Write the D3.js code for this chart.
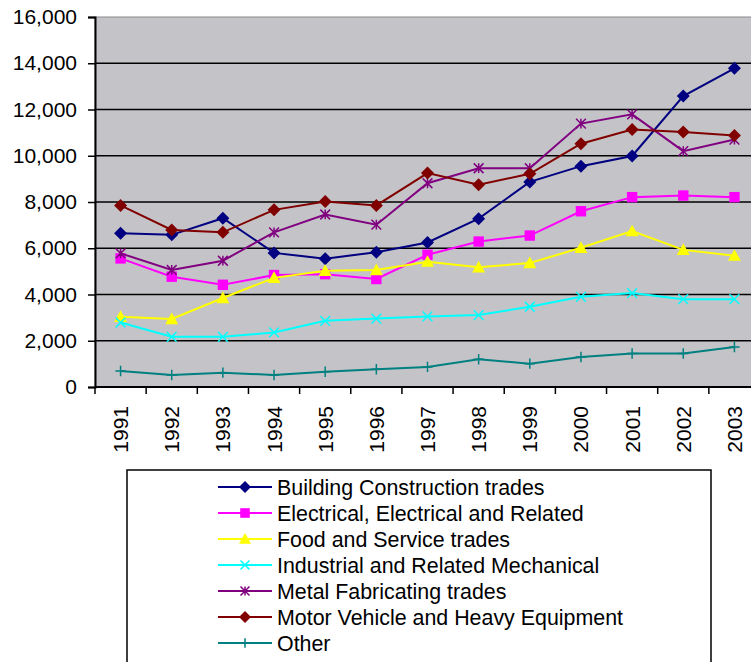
<!DOCTYPE html>
<html>
<head>
<meta charset="utf-8">
<script src="https://cdn.jsdelivr.net/npm/d3@7"></script>
<style>
  html, body { margin: 0; padding: 0; background: #fff; }
  svg { display: block; font-family: Arial, "Liberation Sans", sans-serif; }
</style>
</head>
<body>
<svg id="chart" width="751" height="662"></svg>
<script>
const years = ["1991","1992","1993","1994","1995","1996","1997","1998","1999","2000","2001","2002","2003"];
const yTicks = [0, 2000, 4000, 6000, 8000, 10000, 12000, 14000, 16000];

const building   = [6650, 6580, 7300, 5800, 5550, 5830, 6250, 7280, 8870, 9550, 9990, 12580, 13780];
const electrical = [5560, 4770, 4420, 4840, 4880, 4670, 5720, 6290, 6550, 7600, 8210, 8280, 8210];
const food       = [3040, 2940, 3850, 4720, 5030, 5060, 5420, 5180, 5360, 6020, 6740, 5930, 5680];
const industrial = [2790, 2170, 2170, 2360, 2860, 2960, 3050, 3110, 3470, 3900, 4060, 3800, 3800];
const metal      = [5780, 5060, 5460, 6690, 7460, 7020, 8810, 9460, 9460, 11390, 11790, 10200, 10700];
const motor      = [7850, 6790, 6690, 7660, 8020, 7850, 9250, 8750, 9220, 10520, 11130, 11030, 10880];
const other      = [690, 520, 620, 520, 660, 770, 870, 1200, 1010, 1300, 1450, 1450, 1730];

const seriesNames = [
  "Building Construction trades",
  "Electrical, Electrical and Related",
  "Food and Service trades",
  "Industrial and Related Mechanical",
  "Metal Fabricating trades",
  "Motor Vehicle and Heavy Equipment",
  "Other"
];

const series = [
  { name: seriesNames[0], values: building,   color: "#000080", marker: "diamond" },
  { name: seriesNames[1], values: electrical, color: "#ff00ff", marker: "square" },
  { name: seriesNames[2], values: food,       color: "#ffff00", marker: "triangle" },
  { name: seriesNames[3], values: industrial, color: "#00ffff", marker: "x" },
  { name: seriesNames[4], values: metal,      color: "#800080", marker: "star" },
  { name: seriesNames[5], values: motor,      color: "#800000", marker: "diamond" },
  { name: seriesNames[6], values: other,      color: "#008080", marker: "plus" }
];

const svg = d3.select("#chart");
const plot = { left: 95, top: 17, right: 760, bottom: 387 };

const x = d3.scaleBand().domain(years).range([plot.left, plot.right]);
const y = d3.scaleLinear().domain([0, 16000]).range([plot.bottom, plot.top]);

// plot background
svg.append("rect")
  .attr("x", plot.left)
  .attr("y", plot.top)
  .attr("width", plot.right - plot.left)
  .attr("height", plot.bottom - plot.top)
  .attr("fill", "#c4c3c7")
  .attr("stroke", "#8a8a8a")
  .attr("stroke-width", 1);

// gridlines
svg.append("g")
  .selectAll("line")
  .data(yTicks.filter(d => d > 0 && d < 16000))
  .join("line")
  .attr("x1", plot.left)
  .attr("x2", plot.right)
  .attr("y1", d => y(d))
  .attr("y2", d => y(d))
  .attr("stroke", "#000")
  .attr("stroke-width", 1.5);

// y axis
const yAxis = svg.append("g")
  .attr("transform", `translate(${plot.left},0)`)
  .call(d3.axisLeft(y).tickValues(yTicks).tickFormat(d3.format(",")).tickSize(7).tickPadding(11));
yAxis.select(".domain").attr("stroke", "#000").attr("stroke-width", 2);
yAxis.selectAll(".tick line").attr("stroke", "#000").attr("stroke-width", 1.5);
yAxis.selectAll("text")
  .attr("font-size", 21)
  .attr("font-family", "Arial, 'Liberation Sans', sans-serif")
  .attr("fill", "#000");

// x axis (ticks between categories)
const xg = svg.append("g").attr("transform", `translate(0,${plot.bottom})`);
xg.append("line")
  .attr("x1", plot.left).attr("x2", plot.right)
  .attr("stroke", "#000").attr("stroke-width", 2);
xg.selectAll(".tk")
  .data(years)
  .join("line")
  .attr("class", "tk")
  .attr("x1", d => x(d)).attr("x2", d => x(d))
  .attr("y1", 0).attr("y2", 7)
  .attr("stroke", "#000").attr("stroke-width", 1.5);
xg.selectAll("text")
  .data(years)
  .join("text")
  .attr("transform", d => `translate(${x(d) + x.bandwidth() / 2 + 7.5},19) rotate(-90)`)
  .attr("text-anchor", "end")
  .attr("font-size", 21)
  .attr("fill", "#000")
  .text(d => d);

// marker shapes
function drawMarker(g, type, color, size) {
  const s = size;
  if (type === "diamond") {
    g.append("path").attr("d", `M0,${-s}L${s},0L0,${s}L${-s},0Z`).attr("fill", color);
  } else if (type === "square") {
    g.append("rect").attr("x", -s * 0.8).attr("y", -s * 0.8)
      .attr("width", s * 1.6).attr("height", s * 1.6).attr("fill", color);
  } else if (type === "triangle") {
    g.append("path").attr("d", `M0,${-s}L${s},${s * 0.8}L${-s},${s * 0.8}Z`).attr("fill", color);
  } else if (type === "x") {
    const r = s * 0.75;
    g.append("path").attr("d", `M${-r},${-r}L${r},${r}M${r},${-r}L${-r},${r}`)
      .attr("stroke", color).attr("stroke-width", 1.5);
  } else if (type === "star") {
    const r = s * 0.75;
    g.append("path").attr("d", `M${-r},${-r}L${r},${r}M${r},${-r}L${-r},${r}M0,${-r}L0,${r}`)
      .attr("stroke", color).attr("stroke-width", 1.5);
  } else if (type === "plus") {
    const r = s * 0.8;
    g.append("path").attr("d", `M${-r},0L${r},0M0,${-r}L0,${r}`)
      .attr("stroke", color).attr("stroke-width", 1.5);
  }
}

const line = d3.line()
  .x((d, i) => x(years[i]) + x.bandwidth() / 2)
  .y(d => y(d));

series.forEach(s => {
  svg.append("path")
    .datum(s.values)
    .attr("fill", "none")
    .attr("stroke", s.color)
    .attr("stroke-width", 2)
    .attr("d", line);

  s.values.forEach((v, i) => {
    const g = svg.append("g")
      .attr("transform", `translate(${x(years[i]) + x.bandwidth() / 2},${y(v)})`);
    drawMarker(g, s.marker, s.color, 6.5);
  });
});

// legend
const legend = svg.append("g");
legend.append("rect")
  .attr("x", 127)
  .attr("y", 470)
  .attr("width", 584)
  .attr("height", 210)
  .attr("fill", "#fff")
  .attr("stroke", "#000")
  .attr("stroke-width", 1.5);

series.forEach((s, i) => {
  const row = legend.append("g").attr("transform", `translate(0,${487 + i * 26})`);
  row.append("line")
    .attr("x1", 218).attr("x2", 272)
    .attr("stroke", s.color).attr("stroke-width", 2);
  const m = row.append("g").attr("transform", "translate(245,0)");
  drawMarker(m, s.marker, s.color, 6);
  row.append("text")
    .attr("x", 277)
    .attr("y", 7.5)
    .attr("font-size", 21.4)
    .attr("fill", "#000")
    .text(s.name);
});
</script>
</body>
</html>
